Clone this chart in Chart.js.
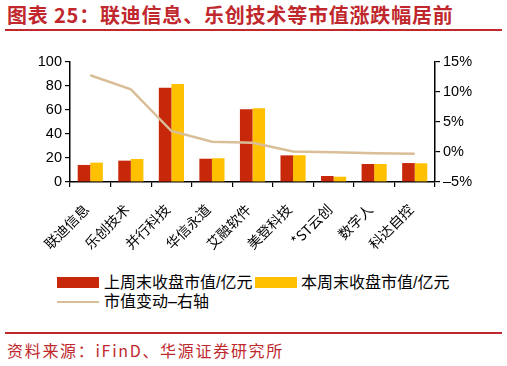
<!DOCTYPE html>
<html><head><meta charset="utf-8">
<script src="https://cdn.jsdelivr.net/npm/chart.js@4/dist/chart.umd.min.js"></script>
<style>
html,body{margin:0;padding:0;background:#fff;width:507px;height:366px;overflow:hidden;position:relative;font-family:"Liberation Sans","Noto Sans CJK SC",sans-serif;}
#title{position:absolute;left:7px;top:2px;font:bold 20px "Noto Sans CJK SC",sans-serif;color:#C0282D;white-space:nowrap;letter-spacing:0.8px;line-height:26px;}
#rule1{position:absolute;left:5px;top:29px;width:497px;height:2px;background:#C0282D;}
#rule2{position:absolute;left:5px;top:332px;width:497px;height:2px;background:#C0282D;}
#src{position:absolute;left:7px;top:339px;font:16px "Noto Sans CJK SC",sans-serif;color:#C0282D;white-space:nowrap;letter-spacing:1.7px;line-height:22px;}
#cv{position:absolute;left:0;top:0;}
.leg{position:absolute;font:16px "Liberation Sans","Noto Sans CJK SC",sans-serif;color:#000;white-space:nowrap;line-height:18px;}
.box{position:absolute;width:42px;height:11px;}
.ln{position:absolute;width:42px;height:2px;}
</style></head><body>
<div id="title">图表 25：联迪信息、乐创技术等市值涨跌幅居前</div>
<div id="rule1"></div>
<canvas id="cv" width="507" height="272"></canvas>
<div id="legend"></div>
<div id="rule2"></div>
<div id="src">资料来源：iFinD、华源证券研究所</div>
<script>
const categories = ['联迪信息','乐创技术','并行科技','华信永道','艾融软件','美登科技','*ST云创','数字人','科达自控'];
const lastWeekValue = [14.2, 17.8, 78.6, 19.4, 60.6, 22.2, 5.0, 15.0, 15.8];
const thisWeekValue = [16.1, 19.2, 81.7, 19.8, 61.4, 22.3, 4.4, 15.0, 15.6];
const valueChangePct = [12.8, 10.45, 3.5, 1.7, 1.55, 0.1, -0.05, -0.2, -0.3];
const seriesNames = ['上周末收盘市值/亿元','本周末收盘市值/亿元','市值变动–右轴'];
const leftTicks = [0, 20, 40, 60, 80, 100];
const rightTicks = [-5, 0, 5, 10, 15];

const RED = '#C8280A', YEL = '#FFC000', TAN = '#D9BE98';

// HTML legend
const lg = document.getElementById('legend');
lg.innerHTML =
  '<div class="box" style="left:57px;top:277px;background:'+RED+'"></div>'+
  '<div class="leg" style="left:104px;top:274px">'+seriesNames[0]+'</div>'+
  '<div class="box" style="left:255px;top:277px;background:'+YEL+'"></div>'+
  '<div class="leg" style="left:301px;top:274px">'+seriesNames[1]+'</div>'+
  '<div class="ln" style="left:57px;top:301px;background:'+TAN+'"></div>'+
  '<div class="leg" style="left:104px;top:293px">'+seriesNames[2]+'</div>';

const tickFont = {family:'"Liberation Sans","Noto Sans CJK SC",sans-serif', size:14.5};
new Chart(document.getElementById('cv'), {
  type:'bar',
  data:{
    labels:categories,
    datasets:[
      {type:'line', label:seriesNames[2], data:valueChangePct, yAxisID:'y1', borderColor:TAN, backgroundColor:TAN, borderWidth:2.5, pointRadius:0, tension:0, order:0},
      {label:seriesNames[0], data:lastWeekValue, backgroundColor:RED, yAxisID:'y', categoryPercentage:0.62, barPercentage:1, order:1},
      {label:seriesNames[1], data:thisWeekValue, backgroundColor:YEL, yAxisID:'y', categoryPercentage:0.62, barPercentage:1, order:1}
    ]
  },
  options:{
    responsive:false, animation:false,
    layout:{padding:{top:62,left:0,right:0,bottom:0}},
    plugins:{legend:{display:false}, tooltip:{enabled:false}},
    scales:{
      x:{
        grid:{display:true, drawOnChartArea:false, drawTicks:true, tickLength:5, color:'#000', lineWidth:1.2, offset:true},
        border:{display:true, color:'#000', width:1.5},
        ticks:{color:'#000', font:{family:'"Noto Sans CJK SC",sans-serif', size:14}, minRotation:45, maxRotation:45, autoSkip:false, padding:14, labelOffset:-4},
        afterFit(s){ s.height = 272-182; }
      },
      y:{
        position:'left', min:0, max:100,
        afterBuildTicks(s){ s.ticks = leftTicks.map(v=>({value:v})); },
        grid:{display:true, drawOnChartArea:false, drawTicks:true, tickLength:5, color:'#000', lineWidth:1.2},
        border:{display:true, color:'#000', width:1.5},
        ticks:{color:'#000', font:tickFont, padding:3},
        afterFit(s){ s.width = 70; }
      },
      y1:{
        position:'right', min:-5, max:15,
        afterBuildTicks(s){ s.ticks = rightTicks.map(v=>({value:v})); },
        grid:{display:true, drawOnChartArea:false, drawTicks:true, tickLength:5, color:'#000', lineWidth:1.2},
        border:{display:true, color:'#000', width:1.5},
        ticks:{color:'#000', font:tickFont, padding:3, callback:v=>(v<0?'–'+(-v):v)+'%'},
        afterFit(s){ s.width = 72; }
      }
    }
  }
});
</script>
</body></html>
